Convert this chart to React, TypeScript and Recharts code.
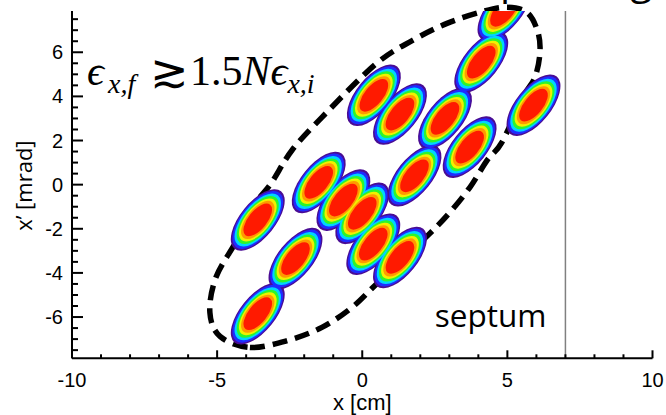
import React from "react";
import {
  ScatterChart,
  Scatter,
  ComposedChart,
  Line,
  XAxis,
  YAxis,
  ReferenceLine,
  Customized,
} from "recharts";

// ---------- data ----------
// beamlet centres: x [cm], x' [mrad]
const beamletX = [4.9, 4.1, 5.9, 0.4, 1.3, 2.85, 3.7, 1.8, -1.5, -3.6, -0.65, 0.0, 0.38, 1.3, -2.3, -3.6];
const beamletXp = [7.9, 5.55, 3.6, 4.05, 3.2, 3.0, 1.7, 0.4, 0.1, -1.6, -0.7, -1.3, -2.7, -3.3, -3.35, -5.85];

// points read along the dashed acceptance ellipse
const ellipseX = [-3.87, -2.56, -1.39, -0.35, 0.51, 2.19, 2.99, 3.71, 4.3, 4.81, 5.54, 5.95, 6.12, 6.05, 5.67, 4.92, 4.05, 2.92, 1.75, 0.45, -1.39, -2.42, -3.14, -3.73, -4.32, -5.04, -5.25, -4.9];
const ellipseXp = [-7.38, -7.06, -6.47, -5.56, -4.48, -2.39, -1.3, -0.12, 1.1, 1.92, 3.96, 4.87, 5.96, 6.92, 7.81, 8.04, 7.81, 7.31, 6.55, 5.45, 3.05, 1.56, 0.06, -0.94, -2.52, -4.2, -5.79, -6.88];

const septumX = 7;

const xTicks = [-10, -9, -8, -7, -6, -5, -4, -3, -2, -1, 0, 1, 2, 3, 4, 5, 6, 7, 8, 9, 10];
const xTickLabels = [-10, -5, 0, 5, 10];
const yTicks = [-7.5, -7, -6.5, -6, -5.5, -5, -4.5, -4, -3.5, -3, -2.5, -2, -1.5, -1, -0.5, 0, 0.5, 1, 1.5, 2, 2.5, 3, 3.5, 4, 4.5, 5, 5.5, 6, 6.5, 7, 7.5];
const yTickLabels = [-6, -4, -2, 0, 2, 4, 6];

const xDomain = [-10, 10];
const yDomain = [-7.87, 7.87];
const yDomainWide = [-8.37, 8.37];

const beamlets = beamletX.map((x, i) => ({ x, y: beamletXp[i] }));
const ellipsePts = ellipseX.map((x, i) => ({ x, y: ellipseXp[i] }));

// ---------- styles ----------
const W = 666;
const H = 415;
const SANS = "'Liberation Sans', Arial, Helvetica, sans-serif";
const SERIF = "'Liberation Serif', 'DejaVu Serif', 'Times New Roman', serif";
const BLOB_A = 37;
const BLOB_B = 17.5;
const BLOB_TILT = -51;
const bands = [
  { c: "#4a0c94", s: 1.0 },
  { c: "#1f2bff", s: 0.94 },
  { c: "#00d4ff", s: 0.86 },
  { c: "#2cf52c", s: 0.78 },
  { c: "#f2f000", s: 0.7 },
  { c: "#ff9a00", s: 0.62 },
  { c: "#ff1a00", s: 0.53 },
];

// closed smooth curve through the points (Catmull-Rom)
function closedSpline(context: any) {
  let pts: number[][] = [];
  return {
    areaStart() {},
    areaEnd() {},
    lineStart() {
      pts = [];
    },
    point(x: number, y: number) {
      pts.push([+x, +y]);
    },
    lineEnd() {
      const n = pts.length;
      if (!n) return;
      context.moveTo(pts[0][0], pts[0][1]);
      for (let i = 0; i < n; i++) {
        const p0 = pts[(i - 1 + n) % n];
        const p1 = pts[i];
        const p2 = pts[(i + 1) % n];
        const p3 = pts[(i + 2) % n];
        context.bezierCurveTo(
          p1[0] + (p2[0] - p0[0]) / 6,
          p1[1] + (p2[1] - p0[1]) / 6,
          p2[0] - (p3[0] - p1[0]) / 6,
          p2[1] - (p3[1] - p1[1]) / 6,
          p2[0],
          p2[1]
        );
      }
      context.closePath();
    },
  };
}

const makeBand = (color: string, s: number) => (props: any) => {
  const { cx, cy } = props;
  if (cx == null || cy == null) return <g />;
  return (
    <ellipse
      cx={cx}
      cy={cy}
      rx={BLOB_A * s}
      ry={BLOB_B * s}
      fill={color}
      transform={`rotate(${BLOB_TILT} ${cx} ${cy})`}
    />
  );
};

const LeftTick = (props: any) => {
  const { x, y, payload } = props;
  const v = payload.value;
  const major = yTickLabels.includes(v);
  return (
    <g>
      <line x1={x} x2={x + (major ? 11 : 6)} y1={y} y2={y} stroke="#000" strokeWidth={2} />
      {major && (
        <text x={x - 9} y={y + 7} textAnchor="end" fontSize={20} fontFamily={SANS} fill="#000">
          {String(v)}
        </text>
      )}
    </g>
  );
};

const RightTick = (props: any) => {
  const { x, y, payload } = props;
  const major = yTickLabels.includes(payload.value);
  return <line x1={x} x2={x - (major ? 11 : 6)} y1={y} y2={y} stroke="#000" strokeWidth={2} />;
};

const BottomTick = (props: any) => {
  const { x, y, payload } = props;
  const v = payload.value;
  const major = xTickLabels.includes(v);
  return (
    <g>
      <line x1={x} x2={x} y1={y} y2={y - (major ? 8 : 4)} stroke="#000" strokeWidth={2} />
      {major && (
        <text x={x} y={y + 29} textAnchor="middle" fontSize={20} fontFamily={SANS} fill="#000">
          {String(v)}
        </text>
      )}
    </g>
  );
};

const TopTick = (props: any) => {
  const { x, y, payload } = props;
  const major = xTickLabels.includes(payload.value);
  return <line x1={x} x2={x} y1={y} y2={y + (major ? 8 : 4)} stroke="#000" strokeWidth={2} />;
};

const XTitle = (props: any) => {
  const vb = props.viewBox || { x: 72, y: 358, width: 580, height: 57 };
  return (
    <text x={vb.x + vb.width / 2} y={vb.y + 51.5} textAnchor="middle" fontSize={22} fontFamily={SANS} fill="#000">
      x [cm]
    </text>
  );
};

const YTitle = (props: any) => {
  const vb = props.viewBox || { x: 0, y: 11, width: 72, height: 347 };
  const cx = vb.x + 32;
  const cy = vb.y + vb.height / 2 + 1;
  return (
    <text
      x={cx}
      y={cy}
      textAnchor="middle"
      fontSize={22}
      fontFamily="'Open Sans', 'Noto Sans', sans-serif"
      fill="#000"
      transform={`rotate(-90 ${cx} ${cy})`}
    >
      x’ [mrad]
    </text>
  );
};

const SeptumLabel = (props: any) => {
  const vb = props.viewBox || { x: 566, y: 11, width: 0, height: 347 };
  return (
    <text
      x={vb.x - 19}
      y={vb.y + vb.height - 31}
      textAnchor="end"
      fontSize={31.5}
      fontFamily="'Open Sans', 'Noto Sans', sans-serif"
      fill="#000"
    >
      septum
    </text>
  );
};

const Annotations = () => (
  <g>
    <text x={652} y={-6} textAnchor="end" fontSize={40} fontFamily="'Open Sans', sans-serif" fill="#000">
      Multi-turn emittance after painting
    </text>
    <text fontFamily={SERIF} fill="#000">
      <tspan x={87} y={85} fontSize={42} fontStyle="italic">ϵ</tspan>
      <tspan x={108} y={93} fontSize={28} fontStyle="italic">x,f</tspan>
      <tspan x={150} y={87} fontSize={46} fontWeight={300}>≳</tspan>
      <tspan x={190} y={85} fontSize={42}>1.5</tspan>
      <tspan fontSize={42} fontStyle="italic">N</tspan>
      <tspan fontSize={42} fontStyle="italic">ϵ</tspan>
      <tspan dy={8} fontSize={28} fontStyle="italic">x,i</tspan>
    </text>
  </g>
);

export default function App() {
  return (
    <div style={{ position: "absolute", left: 0, top: 0, width: W, height: H, background: "#fff" }}>
      {/* acceptance ellipse layer (below the beamlets, not clipped at the frame) */}
      <div style={{ position: "absolute", left: 0, top: 0 }}>
        <ComposedChart width={W} height={H} data={ellipsePts} margin={{ top: 0, right: 13.5, bottom: 45.7, left: 72 }}>
          <XAxis type="number" dataKey="x" domain={xDomain} hide height={0} />
          <YAxis type="number" domain={yDomainWide} hide width={0} />
          <Line
            dataKey="y"
            type={closedSpline as any}
            stroke="#000"
            strokeWidth={5.5}
            strokeDasharray="15 8"
            dot={false}
            activeDot={false}
            isAnimationActive={false}
          />
        </ComposedChart>
      </div>
      {/* main plot */}
      <div style={{ position: "absolute", left: 0, top: 0 }}>
        <ScatterChart width={W} height={H} margin={{ top: 11, right: 13.5, bottom: 0, left: 0 }}>
          <XAxis
            type="number"
            dataKey="x"
            domain={xDomain}
            allowDataOverflow
            ticks={xTicks}
            interval={0}
            tickSize={0}
            tickMargin={0}
            tickLine={false}
            tick={<BottomTick />}
            axisLine={{ stroke: "#000", strokeWidth: 2 }}
            height={56.7}
            label={<XTitle />}
          />
          <XAxis
            xAxisId="top"
            orientation="top"
            type="number"
            domain={xDomain}
            allowDataOverflow
            ticks={xTicks}
            interval={0}
            tickSize={0}
            tickMargin={0}
            tickLine={false}
            tick={<TopTick />}
            axisLine={{ stroke: "#000", strokeWidth: 2 }}
            height={0}
          />
          <YAxis
            type="number"
            dataKey="y"
            domain={yDomain}
            allowDataOverflow
            ticks={yTicks}
            interval={0}
            tickSize={0}
            tickMargin={0}
            tickLine={false}
            tick={<LeftTick />}
            axisLine={{ stroke: "#000", strokeWidth: 2 }}
            width={72}
            label={<YTitle />}
          />
          <YAxis
            yAxisId="right"
            orientation="right"
            type="number"
            domain={yDomain}
            allowDataOverflow
            ticks={yTicks}
            interval={0}
            tickSize={0}
            tickMargin={0}
            tickLine={false}
            tick={<RightTick />}
            axisLine={{ stroke: "#000", strokeWidth: 2 }}
            width={0}
          />
          {bands.map((b, i) => (
            <Scatter
              key={i}
              data={beamlets}
              shape={makeBand(b.c, b.s)}
              isAnimationActive={false}
            />
          ))}
          <ReferenceLine x={septumX} stroke="#808080" strokeWidth={1.5} label={<SeptumLabel />} />
          <Customized component={Annotations} />
        </ScatterChart>
      </div>
    </div>
  );
}
